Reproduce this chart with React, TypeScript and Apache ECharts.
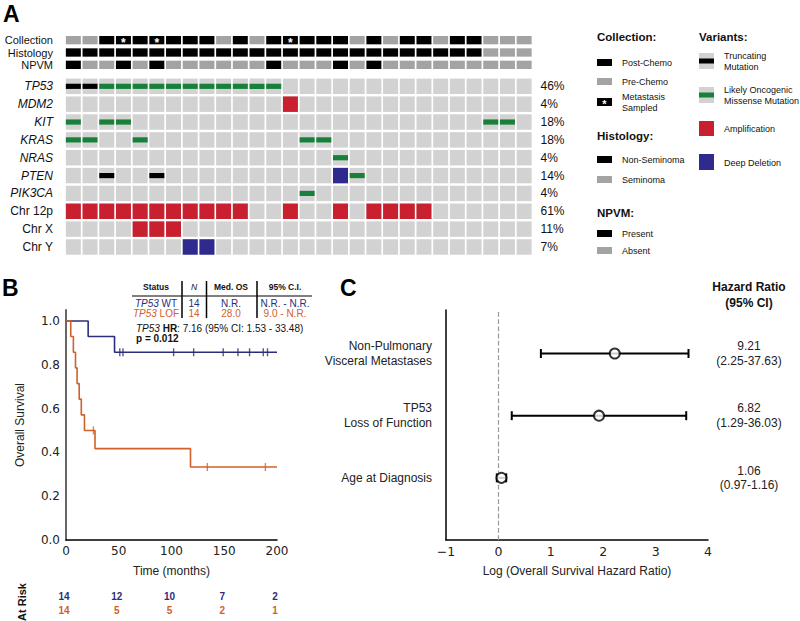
import React, { useEffect, useRef } from "react";
import * as echarts from "echarts";

// ---------------- DATA ----------------
const samples = [
  "P01","P02","P03","P04","P05","P06","P07","P08","P09","P10","P11","P12","P13","P14",
  "P15","P16","P17","P18","P19","P20","P21","P22","P23","P24","P25","P26","P27","P28",
];
const annotationRows = ["Collection", "Histology", "NPVM"];
const collection = [
  "pre","pre","post","met","post","met","post","post","post","pre","post","pre","post","met",
  "post","post","post","pre","post","pre","post","post","pre","post","post","pre","pre","pre",
];
const histology = [
  "non","non","non","non","non","non","non","non","non","non","non","non","non","non",
  "non","non","non","non","non","non","non","non","non","non","non","sem","sem","sem",
];
const npvm = [
  "yes","no","no","yes","no","yes","no","no","no","no","no","no","yes","no",
  "no","no","yes","no","yes","no","no","no","no","no","no","no","no","no",
];

const genes = ["TP53", "MDM2", "KIT", "KRAS", "NRAS", "PTEN", "PIK3CA", "Chr 12p", "Chr X", "Chr Y"];
// T = truncating, M = likely oncogenic missense, A = amplification, D = deep deletion, . = none
const rowTP53 = "TTMMMMM MMMMMM. ....... .......";
const rowMDM2 = "....... ......A ....... .......";
const rowKIT = "M.MM... ....... ....... ....MM.";
const rowKRAS = "MM..M.. ....... MM..... .......";
const rowNRAS = "....... ....... ..M.... .......";
const rowPTEN = "..T..T. ....... ..DM... .......";
const rowPIK3CA = "....... ....... M...... .......";
const rowChr12p = "AAAAAAA AAAA..A ..A.AAA A......";
const rowChrX = "....AAA ....... ....... .......";
const rowChrY = "....... DD..... ....... .......";
const geneRows = [rowTP53, rowMDM2, rowKIT, rowKRAS, rowNRAS, rowPTEN, rowPIK3CA, rowChr12p, rowChrX, rowChrY];

// Kaplan-Meier
const wtTimes = [0, 21, 46, 200];
const wtSurv = [1.0, 0.929, 0.857, 0.857];
const wtCensor = [51, 54, 102, 121, 149, 163, 174, 187, 191];
const lofTimes = [0, 4.5, 7, 9, 10.5, 12.5, 14.5, 17.5, 27.5, 118, 200];
const lofSurv = [1.0, 0.929, 0.857, 0.786, 0.714, 0.643, 0.571, 0.5, 0.417, 0.333, 0.333];
const lofCensor = [26, 134, 189];
const riskTimes = [0, 50, 100, 150, 200];
const wtRisk = [14, 12, 10, 7, 2];
const lofRisk = [14, 5, 5, 2, 1];
const tableHeader = ["Status", "N", "Med. OS", "95% C.I."];
const wtRow = ["WT", "14", "N.R.", "N.R. - N.R."];
const lofRow = ["LOF", "14", "28.0", "9.0 - N.R."];
const hrText = ": 7.16 (95% CI: 1.53 - 33.48)";
const pText = "p = 0.012";

// Forest
const forestLabels = ["Non-Pulmonary\nVisceral Metastases", "TP53\nLoss of Function", "Age at Diagnosis"];
const hazard = [9.21, 6.82, 1.06];
const ciLow = [2.25, 1.29, 0.97];
const ciHigh = [37.63, 36.03, 1.16];

// ---------------- STYLE ----------------
const SANS = "'Liberation Sans', Arial, Helvetica, sans-serif";
const DJV = "'DejaVu Sans', sans-serif";
const COL = {
  cell: "#d2d2d2",
  ann: "#a3a3a3",
  black: "#000000",
  green: "#17803b",
  red: "#c8202e",
  blue: "#2e2a8e",
  wt: "#2c2f78",
  lof: "#d1602a",
  text: "#111111",
};

type TO = { size?: number; weight?: string; style?: string; fill?: string; align?: string; family?: string; rich?: any; lh?: number; rot?: number };
function txt(text: string, x: number, y: number, o: TO = {}) {
  return {
    type: "text",
    x,
    y,
    rotation: o.rot ?? 0,
    silent: true,
    style: {
      text,
      fill: o.fill ?? COL.text,
      fontSize: o.size ?? 10,
      fontFamily: o.family ?? SANS,
      fontWeight: o.weight ?? "normal",
      fontStyle: o.style ?? "normal",
      align: o.align ?? "left",
      verticalAlign: "middle",
      lineHeight: o.lh,
      rich: o.rich,
    },
  };
}
function box(x: number, y: number, w: number, h: number, fill: string) {
  return { type: "rect", silent: true, shape: { x, y, width: w, height: h }, style: { fill } };
}
function seg(x1: number, y1: number, x2: number, y2: number, w = 1, stroke = "#000") {
  return { type: "line", silent: true, shape: { x1, y1, x2, y2 }, style: { stroke, lineWidth: w } };
}

function survAt(times: number[], surv: number[], t: number) {
  let v = surv[0];
  for (let i = 0; i < times.length; i++) if (times[i] <= t) v = surv[i];
  return v;
}

function buildOption() {
  const codeOf: Record<string, number> = { ".": 0, T: 1, M: 2, A: 3, D: 4 };
  const parsed = geneRows.map((s) => s.replace(/ /g, "").split(""));
  const geneData: number[][] = [];
  parsed.forEach((row, r) => row.forEach((ch, c) => geneData.push([c, r, codeOf[ch]])));
  const pctLabels = parsed.map((row) => Math.round((row.filter((ch) => ch !== ".").length / samples.length) * 100) + "%");

  const annData: number[][] = [];
  collection.forEach((v, c) => annData.push([c, 0, v === "pre" ? 0 : v === "post" ? 1 : 2]));
  histology.forEach((v, c) => annData.push([c, 1, v === "non" ? 1 : 0]));
  npvm.forEach((v, c) => annData.push([c, 2, v === "yes" ? 1 : 0]));

  const riskData: number[][] = [];
  riskTimes.forEach((t, i) => riskData.push([t, 0, wtRisk[i]]));
  riskTimes.forEach((t, i) => riskData.push([t, 1, lofRisk[i]]));

  const nF = forestLabels.length;
  const forestRow = (i: number) => nF - i;
  const barData = hazard.map((_, i) => [Math.log(ciLow[i]), Math.log(ciHigh[i]), forestRow(i)]);
  const pointData = hazard.map((h, i) => [Math.log(h), forestRow(i)]);

  const legendX = 597, legendTX = 622, varX = 699, varTX = 724;

  const graphic: any[] = [
    // panel letters
    txt("A", 3, 14, { size: 23, weight: "bold", family: SANS, fill: "#000" }),
    txt("B", 2, 288, { size: 23, weight: "bold", family: SANS, fill: "#000" }),
    txt("C", 340, 288, { size: 23, weight: "bold", family: SANS, fill: "#000" }),
    // legend: collection
    txt("Collection:", legendX, 37, { size: 11.5, weight: "bold" }),
    box(legendX, 59, 15, 7, COL.black),
    txt("Post-Chemo", legendTX, 62.5, { size: 9 }),
    box(legendX, 78, 15, 7, COL.ann),
    txt("Pre-Chemo", legendTX, 81.5, { size: 9 }),
    box(legendX, 98, 15, 8, COL.black),
    txt("*", legendX + 7.5, 104, { size: 11, weight: "bold", fill: "#fff", align: "center" }),
    txt("Metastasis\nSampled", legendTX, 102.5, { size: 9, lh: 11 }),
    txt("Histology:", legendX, 136, { size: 11.5, weight: "bold" }),
    box(legendX, 156, 15, 7, COL.black),
    txt("Non-Seminoma", legendTX, 159.5, { size: 9 }),
    box(legendX, 176, 15, 7, COL.ann),
    txt("Seminoma", legendTX, 179.5, { size: 9 }),
    txt("NPVM:", legendX, 213, { size: 11.5, weight: "bold" }),
    box(legendX, 230, 15, 7, COL.black),
    txt("Present", legendTX, 233.5, { size: 9 }),
    box(legendX, 247, 15, 7, COL.ann),
    txt("Absent", legendTX, 250.5, { size: 9 }),
    // legend: variants
    txt("Variants:", varX, 37, { size: 11.5, weight: "bold" }),
    box(varX, 53, 15, 16, COL.cell),
    box(varX, 58.5, 15, 5, COL.black),
    txt("Truncating\nMutation", varTX, 61.5, { size: 9, lh: 11 }),
    box(varX, 87, 15, 16, COL.cell),
    box(varX, 92.5, 15, 5, COL.green),
    txt("Likely Oncogenic\nMissense Mutation", varTX, 95.5, { size: 9, lh: 11 }),
    box(varX, 121, 15, 15, COL.red),
    txt("Amplification", varTX, 128.5, { size: 9 }),
    box(varX, 154, 15, 16, COL.blue),
    txt("Deep Deletion", varTX, 162.5, { size: 9 }),
    // KM table
    txt(tableHeader[0], 156, 287, { size: 8.5, weight: "bold", align: "center" }),
    txt(tableHeader[1], 194, 287, { size: 8.5, style: "italic", align: "center" }),
    txt(tableHeader[2], 231, 287, { size: 8.5, weight: "bold", align: "center" }),
    txt(tableHeader[3], 285, 287, { size: 8.5, weight: "bold", align: "center" }),
    seg(132, 296, 312, 296, 1),
    seg(182, 281, 182, 318, 1.5),
    seg(206.5, 281, 206.5, 318, 1.5),
    seg(257, 281, 257, 318, 1.5),
    txt("{i|TP53} " + wtRow[0], 156, 303, { size: 10, fill: COL.wt, align: "center", rich: { i: { fontStyle: "italic", fontSize: 10, fontFamily: SANS } } }),
    txt(wtRow[1], 194, 303, { size: 10, fill: COL.wt, align: "center" }),
    txt(wtRow[2], 231, 303, { size: 10, fill: COL.wt, align: "center" }),
    txt(wtRow[3], 285, 303, { size: 10, fill: COL.wt, align: "center" }),
    txt("{i|TP53} " + lofRow[0], 156, 313, { size: 10, fill: COL.lof, align: "center", rich: { i: { fontStyle: "italic", fontSize: 10, fontFamily: SANS } } }),
    txt(lofRow[1], 194, 313, { size: 10, fill: COL.lof, align: "center" }),
    txt(lofRow[2], 231, 313, { size: 10, fill: COL.lof, align: "center" }),
    txt(lofRow[3], 285, 313, { size: 10, fill: COL.lof, align: "center" }),
    txt("{i|TP53} {b|HR}" + hrText, 136, 328, {
      size: 10,
      rich: { i: { fontStyle: "italic", fontSize: 10, fontFamily: SANS }, b: { fontWeight: "bold", fontSize: 10, fontFamily: SANS } },
    }),
    txt(pText, 136, 338, { size: 10, weight: "bold" }),
    // at risk label
    txt("At Risk", 22, 602, { size: 11, weight: "bold", align: "center", rot: Math.PI / 2 }),
    // forest HR header
    txt("Hazard Ratio", 749, 287, { size: 12, weight: "bold", align: "center" }),
    txt("(95% CI)", 749, 303, { size: 12, weight: "bold", align: "center" }),
  ];

  const catAxisHidden = { type: "category", data: samples, show: false };

  return {
    animation: false,
    backgroundColor: "#ffffff",
    textStyle: { fontFamily: SANS },
    grid: [
      { left: 65, top: 34, width: 467.5, height: 37 },
      { left: 65, top: 77.4, width: 467.5, height: 178.5 },
      { left: 66, top: 310, width: 211, height: 230 },
      { left: 66, top: 589, width: 211, height: 28 },
      { left: 446, top: 310, width: 262, height: 230 },
    ],
    xAxis: [
      { ...catAxisHidden, gridIndex: 0 },
      { ...catAxisHidden, gridIndex: 1 },
      {
        type: "value", gridIndex: 2, min: 0, max: 200, interval: 50,
        axisLine: { onZero: false, lineStyle: { color: "#000", width: 1.5 } },
        axisTick: { show: false }, splitLine: { show: false },
        axisLabel: { fontFamily: DJV, fontSize: 12, color: "#222", margin: 5 },
        name: "Time (months)", nameLocation: "middle", nameGap: 25,
        nameTextStyle: { fontFamily: SANS, fontSize: 12, color: "#222" },
      },
      { type: "value", gridIndex: 3, min: 0, max: 200, show: false },
      {
        type: "value", gridIndex: 4, min: -1, max: 4, interval: 1,
        axisLine: { onZero: false, lineStyle: { color: "#000", width: 1.5 } },
        axisTick: { show: false }, splitLine: { show: false },
        axisLabel: { fontFamily: DJV, fontSize: 12.5, color: "#222", margin: 5, formatter: (v: number) => (v < 0 ? "\u2212" + Math.abs(v) : String(v)) },
        name: "Log (Overall Survival Hazard Ratio)", nameLocation: "middle", nameGap: 25,
        nameTextStyle: { fontFamily: SANS, fontSize: 12, color: "#222" },
      },
    ],
    yAxis: [
      {
        type: "category", gridIndex: 0, data: annotationRows, inverse: true,
        axisLine: { show: false }, axisTick: { show: false }, splitLine: { show: false },
        axisLabel: { interval: 0, fontFamily: SANS, fontSize: 11, color: "#111", margin: 12 },
      },
      {
        type: "category", gridIndex: 1, data: genes, inverse: true,
        axisLine: { show: false }, axisTick: { show: false }, splitLine: { show: false },
        axisLabel: {
          interval: 0, fontFamily: SANS, fontSize: 12, color: "#111", margin: 12,
          formatter: (v: string) => (v.startsWith("Chr") ? v : "{i|" + v + "}"),
          rich: { i: { fontStyle: "italic", fontSize: 12, fontFamily: SANS, color: "#111" } },
        },
      },
      {
        type: "category", gridIndex: 1, data: pctLabels, inverse: true, position: "right",
        axisLine: { show: false }, axisTick: { show: false }, splitLine: { show: false },
        axisLabel: { interval: 0, fontFamily: SANS, fontSize: 12, color: "#111", margin: 8 },
      },
      {
        type: "value", gridIndex: 2, min: 0, max: 1.05, interval: 0.2,
        axisLine: { show: true, onZero: false, lineStyle: { color: "#666", width: 2 } },
        axisTick: { show: false }, splitLine: { show: false },
        axisLabel: {
          fontFamily: DJV, fontSize: 12, color: "#222", margin: 6,
          formatter: (v: number) => (Math.abs(v * 5 - Math.round(v * 5)) < 1e-6 ? v.toFixed(1) : ""),
        },
        name: "Overall Survival", nameLocation: "middle", nameGap: 40, nameRotate: 90,
        nameTextStyle: { fontFamily: SANS, fontSize: 12, color: "#222" },
      },
      { type: "category", gridIndex: 3, data: ["WT", "LOF"], inverse: true, show: false },
      {
        type: "value", gridIndex: 4, min: 0, max: 3.7, interval: 1,
        axisLine: { show: true, onZero: false, lineStyle: { color: "#000", width: 1.5 } },
        axisTick: { show: false }, splitLine: { show: false },
        axisLabel: {
          fontFamily: SANS, fontSize: 12, color: "#222", margin: 14, lineHeight: 14.5,
          formatter: (v: number) => {
            const i = nF - v;
            return Number.isInteger(v) && i >= 0 && i < nF ? forestLabels[i] : "";
          },
        },
      },
      {
        type: "value", gridIndex: 4, min: 0, max: 3.7, interval: 1, position: "right",
        axisLine: { show: false }, axisTick: { show: false }, splitLine: { show: false },
        axisLabel: {
          fontFamily: SANS, fontSize: 12, color: "#222", margin: 41, align: "center", lineHeight: 14.5,
          formatter: (v: number) => {
            const i = nF - v;
            return Number.isInteger(v) && i >= 0 && i < nF
              ? hazard[i].toFixed(2) + "\n(" + ciLow[i].toFixed(2) + "-" + ciHigh[i].toFixed(2) + ")"
              : "";
          },
        },
      },
    ],
    series: [
      {
        type: "custom", xAxisIndex: 0, yAxisIndex: 0, data: annData, clip: false,
        encode: { x: 0, y: 1 },
        renderItem: (params: any, api: any) => {
          const p = api.coord([api.value(0), api.value(1)]);
          const s = api.size([1, 1]);
          const w = s[0] - 1.7, h = s[1] - 4;
          const k = api.value(2);
          const children: any[] = [
            { type: "rect", shape: { x: p[0] - w / 2, y: p[1] - h / 2, width: w, height: h }, style: { fill: k === 0 ? COL.ann : COL.black } },
          ];
          if (k === 2) {
            children.push({
              type: "text", x: p[0], y: p[1] + 2.5,
              style: { text: "*", fill: "#fff", fontSize: 12, fontWeight: "bold", fontFamily: SANS, align: "center", verticalAlign: "middle" },
            });
          }
          return { type: "group", children };
        },
      },
      {
        type: "custom", xAxisIndex: 1, yAxisIndex: 1, data: geneData, clip: false,
        encode: { x: 0, y: 1 },
        renderItem: (params: any, api: any) => {
          const p = api.coord([api.value(0), api.value(1)]);
          const s = api.size([1, 1]);
          const w = s[0] - 1.7, h = s[1] - 2.4;
          const x = p[0] - w / 2, y = p[1] - h / 2;
          const k = api.value(2);
          const children: any[] = [{ type: "rect", shape: { x, y, width: w, height: h }, style: { fill: COL.cell } }];
          if (k === 3 || k === 4) {
            children.push({ type: "rect", shape: { x, y, width: w, height: h }, style: { fill: k === 3 ? COL.red : COL.blue } });
          } else if (k === 1 || k === 2) {
            children.push({ type: "rect", shape: { x, y: p[1] - 2.6, width: w, height: 5.2 }, style: { fill: k === 1 ? COL.black : COL.green } });
          }
          return { type: "group", children };
        },
      },
      {
        type: "line", xAxisIndex: 2, yAxisIndex: 3, step: "end", showSymbol: false,
        data: wtTimes.map((t, i) => [t, wtSurv[i]]),
        lineStyle: { color: COL.wt, width: 1.6 },
      },
      {
        type: "line", xAxisIndex: 2, yAxisIndex: 3, step: "end", showSymbol: false,
        data: lofTimes.map((t, i) => [t, lofSurv[i]]),
        lineStyle: { color: COL.lof, width: 1.6 },
      },
      {
        type: "scatter", xAxisIndex: 2, yAxisIndex: 3, symbol: "rect", symbolSize: [1.4, 8],
        data: wtCensor.map((t) => [t, survAt(wtTimes, wtSurv, t)]),
        itemStyle: { color: COL.wt },
      },
      {
        type: "scatter", xAxisIndex: 2, yAxisIndex: 3, symbol: "rect", symbolSize: [1.4, 8],
        data: lofCensor.map((t) => [t, survAt(lofTimes, lofSurv, t)]),
        itemStyle: { color: COL.lof },
      },
      {
        type: "custom", xAxisIndex: 3, yAxisIndex: 4, data: riskData, clip: false,
        encode: { x: 0, y: 1 },
        renderItem: (params: any, api: any) => {
          const p = api.coord([api.value(0), api.value(1)]);
          return {
            type: "text", x: p[0] - 2, y: p[1],
            style: {
              text: String(api.value(2)), fill: api.value(1) === 0 ? COL.wt : COL.lof,
              fontSize: 10, fontWeight: "bold", fontFamily: SANS, align: "center", verticalAlign: "middle",
            },
          };
        },
      },
      {
        type: "custom", xAxisIndex: 4, yAxisIndex: 5, data: barData, clip: false,
        encode: { x: [0, 1], y: 2 },
        renderItem: (params: any, api: any) => {
          const a = api.coord([api.value(0), api.value(2)]);
          const b = api.coord([api.value(1), api.value(2)]);
          const st = { stroke: "#000", lineWidth: 2 };
          return {
            type: "group",
            children: [
              { type: "line", shape: { x1: a[0], y1: a[1], x2: b[0], y2: b[1] }, style: st },
              { type: "line", shape: { x1: a[0], y1: a[1] - 4.5, x2: a[0], y2: a[1] + 4.5 }, style: st },
              { type: "line", shape: { x1: b[0], y1: b[1] - 4.5, x2: b[0], y2: b[1] + 4.5 }, style: st },
            ],
          };
        },
      },
      {
        type: "scatter", xAxisIndex: 4, yAxisIndex: 5, symbol: "circle", symbolSize: 10,
        data: pointData, z: 5,
        itemStyle: { color: "#fff", borderColor: "#000", borderWidth: 2 },
        markLine: {
          silent: true, symbol: ["none", "none"], label: { show: false },
          lineStyle: { type: "dashed", color: "#999", width: 1.2 },
          data: [{ xAxis: 0 }],
        },
      },
    ],
    graphic,
  };
}

export default function App() {
  const ref = useRef<HTMLDivElement>(null);
  useEffect(() => {
    document.body.style.margin = "0";
    const chart = echarts.init(ref.current!, undefined, { renderer: "svg" });
    chart.setOption(buildOption() as any);
    return () => chart.dispose();
  }, []);
  return <div ref={ref} style={{ position: "absolute", left: 0, top: 0, width: 800, height: 621 }} />;
}
